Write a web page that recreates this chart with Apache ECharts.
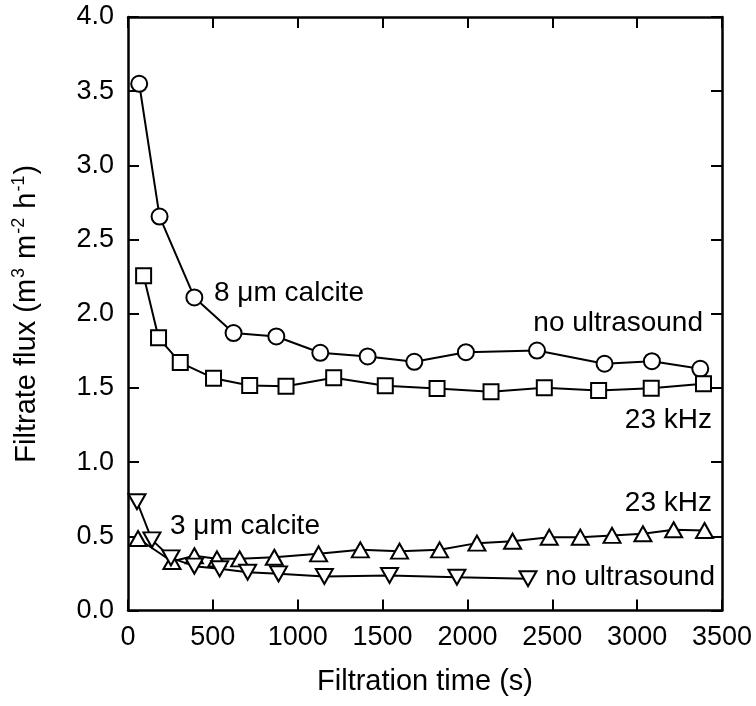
<!DOCTYPE html>
<html>
<head>
<meta charset="utf-8">
<script src="https://cdn.jsdelivr.net/npm/echarts@6/dist/echarts.min.js"></script>
<style>
html,body{margin:0;padding:0;background:#fff;}
#chart{width:756px;height:706px;}
</style>
</head>
<body>
<div id="chart"></div>
<script>
// 8 µm calcite, no ultrasound (circles)
const circleX = [66, 186, 391, 622, 874, 1133, 1412, 1687, 1991, 2410, 2808, 3087, 3372];
const circleY = [3.55, 2.655, 2.11, 1.87, 1.847, 1.737, 1.712, 1.676, 1.741, 1.752, 1.663, 1.68, 1.629];
// 8 µm calcite, 23 kHz (squares)
const squareX = [92, 180, 308, 504, 717, 931, 1212, 1516, 1821, 2139, 2453, 2773, 3083, 3391];
const squareY = [2.256, 1.838, 1.671, 1.566, 1.517, 1.512, 1.568, 1.514, 1.496, 1.474, 1.501, 1.483, 1.498, 1.528];
// 3 µm calcite, 23 kHz (up triangles)
const upX = [59, 259, 391, 524, 658, 862, 1123, 1369, 1600, 1836, 2056, 2266, 2482, 2665, 2852, 3034, 3215, 3397];
const upY = [0.485, 0.33, 0.369, 0.348, 0.348, 0.359, 0.382, 0.409, 0.40, 0.409, 0.454, 0.467, 0.494, 0.494, 0.506, 0.517, 0.544, 0.539];
// 3 µm calcite, no ultrasound (down triangles)
const downX = [53, 141, 253, 391, 540, 705, 887, 1157, 1541, 1938, 2357];
const downY = [0.733, 0.476, 0.355, 0.299, 0.281, 0.258, 0.247, 0.229, 0.236, 0.224, 0.214];

const xTicks = [0, 500, 1000, 1500, 2000, 2500, 3000, 3500];
const yTicks = [0.0, 0.5, 1.0, 1.5, 2.0, 2.5, 3.0, 3.5, 4.0];

const FONT = '"Liberation Sans", Arial, sans-serif';
const FS = 27;   // tick labels
const TS = 29;   // axis titles
const AS = 28;   // annotations

function pairs(xs, ys) { return xs.map((x, i) => [x, ys[i]]); }

function mkSeries(name, xs, ys, symbol, size) {
  return {
    name: name,
    type: 'line',
    data: pairs(xs, ys),
    symbol: symbol,
    symbolSize: size,
    showAllSymbol: true,
    lineStyle: { color: '#000', width: 2 },
    itemStyle: { color: '#fff', borderColor: '#000', borderWidth: 2 },
    emphasis: { disabled: true },
    animation: false,
    z: 3
  };
}

const downTri = 'path://M0,0 L10,0 L5,8.66 Z';
const upTri = 'path://M5,0 L10,8.66 L0,8.66 Z';

const chart = echarts.init(document.getElementById('chart'), null, { renderer: 'canvas' });

const axisCommon = {
  axisTick: { show: true, inside: true, length: 11, lineStyle: { color: '#000', width: 2 } },
  splitLine: { show: false }
};
const lineCommon = { show: true, onZero: false, lineStyle: { color: '#000', width: 2.5 } };

chart.setOption({
  animation: false,
  backgroundColor: '#fff',
  grid: [{ left: 128, top: 17, width: 594, height: 593.5, containLabel: false }],
  xAxis: [
    Object.assign({
      type: 'value', min: 0, max: 3500, interval: 500, position: 'bottom',
      axisLine: lineCommon,
      axisLabel: { fontFamily: FONT, fontSize: FS, color: '#000', margin: 14,
        formatter: v => xTicks.includes(v) ? String(v) : '' },
      name: 'Filtration time (s)', nameLocation: 'middle', nameGap: 57,
      nameTextStyle: { fontFamily: FONT, fontSize: TS, color: '#000' }
    }, axisCommon),
    Object.assign({
      type: 'value', min: 0, max: 3500, interval: 500, position: 'top',
      axisLine: lineCommon,
      axisLabel: { show: false }
    }, axisCommon)
  ],
  yAxis: [
    Object.assign({
      type: 'value', min: 0, max: 4, interval: 0.5, position: 'left',
      axisLine: lineCommon,
      axisLabel: { fontFamily: FONT, fontSize: FS, color: '#000', margin: 14,
        formatter: v => { const t = yTicks.find(a => Math.abs(a - v) < 1e-9); return t === undefined ? '' : t.toFixed(1); } },
      name: '{n|Filtrate flux (m}{s|3}{n| m}{s|-2}{n| h}{s|-1}{n|)}', nameLocation: 'middle', nameGap: 84,
      nameTextStyle: {
        fontFamily: FONT, fontSize: TS, color: '#000',
        rich: {
          n: { fontFamily: FONT, fontSize: TS, color: '#000', lineHeight: 34 },
          s: { fontFamily: FONT, fontSize: 18, color: '#000', lineHeight: 12, verticalAlign: 'top', padding: [0, 1, 0, 1] }
        }
      }
    }, axisCommon),
    Object.assign({
      type: 'value', min: 0, max: 4, interval: 0.5, position: 'right',
      axisLine: lineCommon,
      axisLabel: { show: false }
    }, axisCommon)
  ],
  series: [
    mkSeries('8 µm no ultrasound', circleX, circleY, 'circle', 16),
    mkSeries('8 µm 23 kHz', squareX, squareY, 'rect', 15),
    mkSeries('3 µm 23 kHz', upX, upY, upTri, [17, 15]),
    mkSeries('3 µm no ultrasound', downX, downY, downTri, [17, 15])
  ],
  graphic: [
    { type: 'text', x: 214, y: 293, style: { text: '8 μm calcite', font: AS + 'px ' + FONT, fill: '#000', align: 'left', verticalAlign: 'middle' } },
    { type: 'text', x: 703, y: 323, style: { text: 'no ultrasound', font: AS + 'px ' + FONT, fill: '#000', align: 'right', verticalAlign: 'middle' } },
    { type: 'text', x: 712, y: 420, style: { text: '23 kHz', font: AS + 'px ' + FONT, fill: '#000', align: 'right', verticalAlign: 'middle' } },
    { type: 'text', x: 712, y: 503, style: { text: '23 kHz', font: AS + 'px ' + FONT, fill: '#000', align: 'right', verticalAlign: 'middle' } },
    { type: 'text', x: 170, y: 526, style: { text: '3 μm calcite', font: AS + 'px ' + FONT, fill: '#000', align: 'left', verticalAlign: 'middle' } },
    { type: 'text', x: 715, y: 577, style: { text: 'no ultrasound', font: AS + 'px ' + FONT, fill: '#000', align: 'right', verticalAlign: 'middle' } }
  ]
});
</script>
</body>
</html>
